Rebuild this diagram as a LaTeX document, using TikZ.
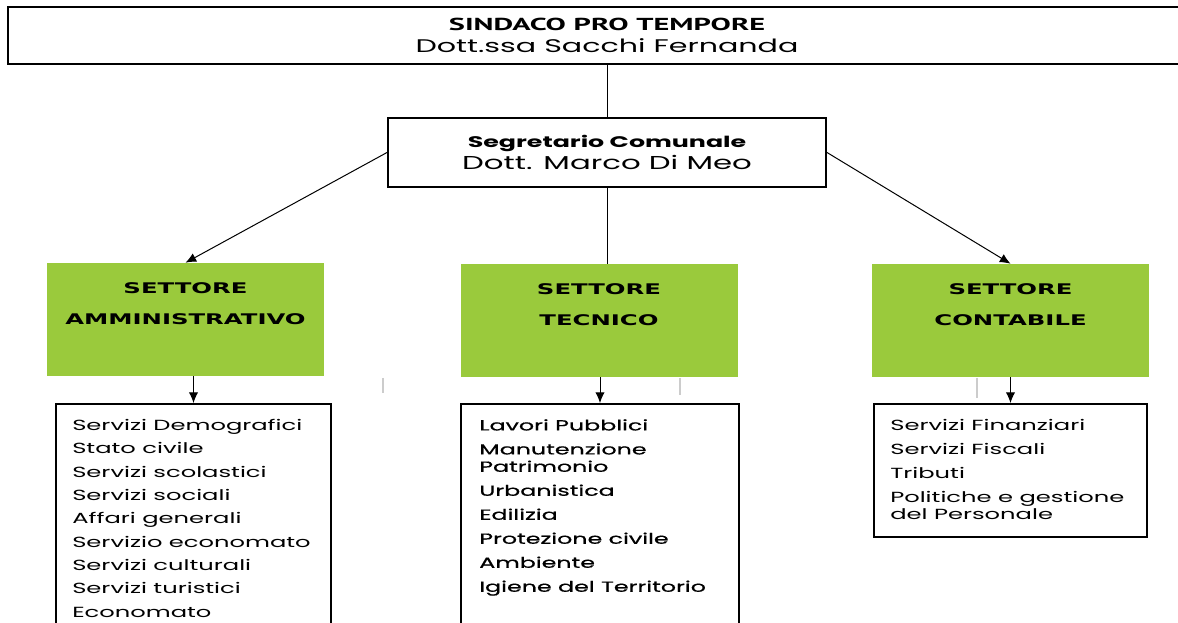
\documentclass[tikz,border=0pt]{standalone}
\usepackage{fontspec}
\setmainfont{Poppins}[FakeStretch=1.65]
\newfontfamily\mediumfont{Poppins}[FakeStretch=1.62, FakeBold=0.6]
\newfontfamily\headfont{DejaVu Sans}[FakeStretch=1.66]
\newfontfamily\titlefont{PT Sans}[FakeStretch=1.75]
\usetikzlibrary{arrows,arrows.meta,positioning,calc}
\definecolor{settoreGreen}{RGB}{154,202,60}

\begin{document}
\begin{tikzpicture}[x=0.75pt, y=-0.75pt,
			every node/.style={align=center, line width=0.15mm},
			topBox/.style={draw, line width=1.5pt, minimum width=898pt, minimum height=42.75pt, font=\fontsize{13.7}{16.5}\selectfont},
			segBox/.style={draw, line width=1.5pt, minimum width=328.5pt, minimum height=51.75pt, font=\fontsize{14}{16.5}\selectfont},
			greenBox/.style={fill=settoreGreen, minimum width=207.75pt, minimum height=84.75pt, inner sep=0pt, font=\headfont\bfseries\fontsize{11}{23.25}\selectfont},
			listBox/.style={draw, line width=1.5pt, anchor=north west, inner sep=0pt},
			listText/.style={align=left, anchor=north west, inner sep=0pt, font=\fontsize{11}{13}\selectfont},
			parentline/.style={line width=0.75pt},
			childarrow/.style={line width=0.75pt, -{Latex[length=8pt, width=7pt]}}
		]
		\useasboundingbox (0,0) rectangle (1178,623);

		% top of the chart
		\node[topBox] (sindaco) at (607,35.5) {{\titlefont\bfseries\fontsize{13}{16.5}\selectfont SINDACO PRO TEMPORE}\\Dott.ssa Sacchi Fernanda};
		\node[segBox] (segretario) at (607,152.5) {{\bfseries\fontsize{11.5}{16.5}\selectfont Segretario Comunale}\\Dott. Marco Di Meo};

		% the three sectors
		\node[greenBox] (settAmm) at (185.5,319.5) {SETTORE\\AMMINISTRATIVO\\\mbox{}};
		\node[greenBox] (settTec) at (599,320.5) {SETTORE\\TECNICO\\\mbox{}};
		\node[greenBox] (settCon) at (1010.5,320.5) {SETTORE\\CONTABILE\\\mbox{}};

		% service lists
		\node[listBox, minimum width=206.25pt, minimum height=190pt] (listAmm) at (55,403) {};
		\node[listBox, minimum width=208.5pt, minimum height=190pt] (listTec) at (460,403) {};
		\node[listBox, minimum width=204.75pt, minimum height=99.75pt] (listCon) at (873,403) {};

		\node[listText] (servAmm) at ($(listAmm.north west)+(17,16)$) {Servizi Demografici\\[4.5pt]Stato civile\\[4.5pt]Servizi scolastici\\[4.5pt]Servizi sociali\\[4.5pt]Affari generali\\[4.5pt]Servizio economato\\[4.5pt]Servizi culturali\\[4.5pt]Servizi turistici\\[4.5pt]Economato};
		\node[listText, font=\mediumfont\fontsize{11}{13}\selectfont] (servTec) at ($(listTec.north west)+(19,16)$) {Lavori Pubblici\\[5pt]Manutenzione\\Patrimonio\\[5pt]Urbanistica\\[5pt]Edilizia\\[5pt]Protezione civile\\[5pt]Ambiente\\[5pt]Igiene del Territorio};
		\node[listText] (servCon) at ($(listCon.north west)+(17,16)$) {Servizi Finanziari\\[5pt]Servizi Fiscali\\[5pt]Tributi\\[5pt]Politiche e gestione\\del Personale};

		% connectors
		\draw[parentline] (sindaco.south) -- (segretario.north);
		\draw[parentline] (segretario.south) -- (segretario.south |- settTec.north);
		\draw[childarrow] (segretario.west) -- (settAmm.north);
		\draw[childarrow] (segretario.east) -- (settCon.north);
		\draw[childarrow] (listAmm.north |- settAmm.south) -- (listAmm.north);
		\draw[childarrow] (listTec.north |- settTec.south) -- (listTec.north);
		\draw[childarrow] (listCon.north |- settCon.south) -- (listCon.north);

		% faint marks under the sectors
		\draw[black!20, line width=1pt] (383,378) -- (383,393);
		\draw[black!20, line width=1pt] (680,378) -- (680,395);
		\draw[black!20, line width=1pt] (977,378) -- (977,398);
	\end{tikzpicture}
\end{document}
